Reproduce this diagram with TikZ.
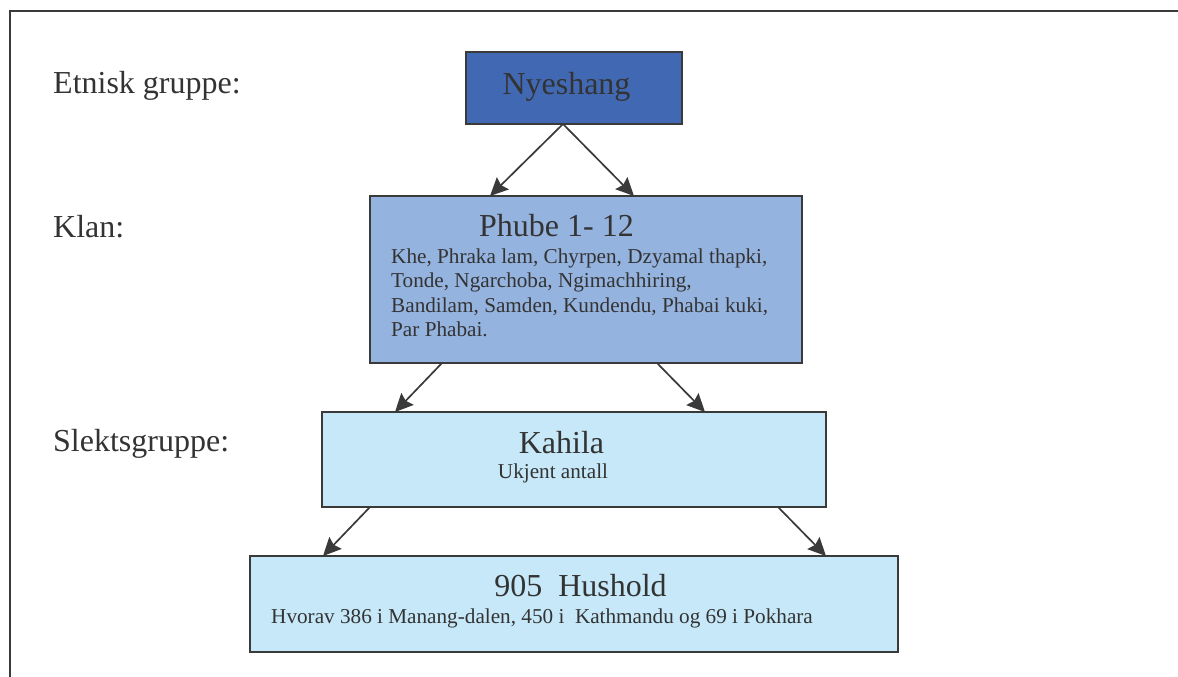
\documentclass[tikz,border=0pt]{standalone}
\usepackage{fontspec}
\setmainfont{Liberation Serif}
\usetikzlibrary{arrows.meta}
\definecolor{txt}{HTML}{333333}
\definecolor{edge}{HTML}{3A3A3A}
\definecolor{darkblue}{HTML}{4169B3}
\definecolor{midblue}{HTML}{95B3DF}
\definecolor{lightblue}{HTML}{C6E8F8}
\tikzset{
  box/.style={draw=edge, line width=2pt, inner sep=0pt, outer sep=0pt, anchor=north west},
  big/.style={font=\fontsize{32}{36}\selectfont, text=txt, inner sep=0pt},
  small/.style={font=\fontsize{21.2}{24}\selectfont, text=txt, inner sep=0pt},
  conn/.style={draw=edge, line width=1.7pt, -{Stealth[length=18pt,width=17pt,inset=2.5pt]}},
  frame/.style={draw=edge, line width=2.5pt}
}
\begin{document}
\begin{tikzpicture}[x=1pt,y=-1pt]
\useasboundingbox (0,0) rectangle (1178,677);
% frame
\coordinate (f1) at (10,680);
\coordinate (f2) at (10,11);
\coordinate (f3) at (1180,11);
\draw[frame] (f1) -- (f2) -- (f3);
% level labels
\node[big, anchor=base west] (l1) at (53,93) {Etnisk gruppe:};
\node[big, anchor=base west] (l2) at (53,237) {Klan:};
\node[big, anchor=base west] (l3) at (53,451) {Slektsgruppe:};
% boxes
\node[box, fill=darkblue, minimum width=216pt, minimum height=72pt] (ny) at (466,52) {};
\node[box, fill=midblue, minimum width=432pt, minimum height=167pt] (ph) at (370,196) {};
\node[box, fill=lightblue, minimum width=504pt, minimum height=95pt] (ka) at (322,412) {};
\node[box, fill=lightblue, minimum width=648pt, minimum height=96pt] (hu) at (250,556) {};
% texts
\node[big, anchor=base] (tny) at (566.5,94) {Nyeshang};
\node[big, anchor=base west] (tph) at (479,236) {Phube 1- 12};
\node[small, anchor=base west] (c1) at (391,263) {Khe, Phraka lam, Chyrpen, Dzyamal thapki,};
\node[small, anchor=base west] (c2) at (391,287.5) {Tonde, Ngarchoba, Ngimachhiring,};
\node[small, anchor=base west] (c3) at (391,312) {Bandilam, Samden, Kundendu, Phabai kuki,};
\node[small, anchor=base west] (c4) at (391,336.5) {Par Phabai.};
\node[big, anchor=base] (tka) at (561.5,453) {Kahila};
\node[small, anchor=base] (tuk) at (553,478) {Ukjent antall};
\node[big, anchor=base] (thu) at (580.5,596) {905~~Hushold};
\node[small, anchor=base west] (thv) at (271,623) {Hvorav 386 i Manang-dalen, 450 i~~Kathmandu og 69 i Pokhara};
% connectors
\draw[conn] ([xshift=-11pt]ny.south) -- ([xshift=120pt]ph.north west);
\draw[conn] ([xshift=-11pt]ny.south) -- ([xshift=264pt]ph.north west);
\draw[conn] ([xshift=72pt]ph.south west) -- ([xshift=73pt]ka.north west);
\draw[conn] ([xshift=287pt]ph.south west) -- ([xshift=383pt]ka.north west);
\draw[conn] ([xshift=48pt]ka.south west) -- ([xshift=73pt]hu.north west);
\draw[conn] ([xshift=456pt]ka.south west) -- ([xshift=576pt]hu.north west);
\end{tikzpicture}
\end{document}
